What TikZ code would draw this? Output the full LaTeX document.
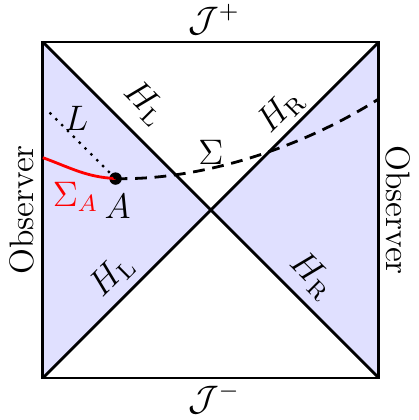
\documentclass[tikz,border=0pt]{standalone}
\usepackage{amsmath}
\usepackage{amssymb}
\usetikzlibrary{positioning, calc}
\definecolor{wedge-blue}{HTML}{E0E0FF}

\begin{document}
\begin{tikzpicture}[
  lbl/.style={font=\fontsize{11.5}{14}\selectfont, inner sep=1pt},
  edge/.style={line width=0.95pt, black},
  horizon/.style={line width=0.95pt, black},
  hlabel/.style={lbl},
  obs/.style={lbl, inner sep=0pt},
  slice/.style={line width=0.95pt, dash pattern=on 4pt off 2.6pt},
  dot/.style={circle, fill=black, inner sep=0pt, minimum size=4.2pt}
]
  \useasboundingbox (-0.51,-0.5) rectangle (4.475,4.5);

  \coordinate (bl) at (0,0);
  \coordinate (br) at (4,0);
  \coordinate (tr) at (4,4);
  \coordinate (tl) at (0,4);
  \coordinate (mid) at (2,2);

  % shaded wedges
  \fill[wedge-blue] (bl) -- (mid) -- (tl) -- cycle;
  \fill[wedge-blue] (br) -- (mid) -- (tr) -- cycle;

  \draw[edge] (bl) rectangle (tr);
  \draw[horizon] (tl) -- (br);
  \draw[horizon] (bl) -- (tr);

  % slices
  \node[dot] (A) at (0.866,2.374) {};
  \coordinate (sa) at (0,2.623);
  \coordinate (se) at (4,3.323);
  \coordinate (lend) at ($(A)+(-0.8,0.8)$);
  \draw[line width=0.95pt, red] (sa) to[out=-20, in=177] (A.center);
  \draw[slice] (A.center) .. controls (1.9,2.35) and (3.1,2.75) .. (se);
  \draw[dotted, thick] (A.center) -- (lend);

  % labels
  \node[lbl] (Lab) at (0.40,3.09) {$L$};
  \node[lbl, text=red] (SAlab) at (0.39,2.16) {$\Sigma_A$};
  \node[lbl] (Alab) at (0.89,2.04) {$A$};
  \node[lbl] (Slab) at (2.0,2.68) {$\Sigma$};

  \node[hlabel, rotate=-45] (hl1) at (1.22,3.27) {$H_{\mathrm{L}}$};
  \node[hlabel, rotate=45] (hr1) at (2.83,3.18) {$H_{\mathrm{R}}$};
  \node[hlabel, rotate=45] (hl2) at (0.82,1.22) {$H_{\mathrm{L}}$};
  \node[hlabel, rotate=-45] (hr2) at (3.21,1.22) {$H_{\mathrm{R}}$};

  \node[obs, rotate=90] (obsL) at (-0.25,2) {Observer};
  \node[obs, rotate=-90] (obsR) at (4.23,2) {Observer};

  \node[lbl] (scrip) at (2.04,4.27) {$\mathcal{J}^+$};
  \node[lbl] (scrim) at (2.04,-0.24) {$\mathcal{J}^-$};
\end{tikzpicture}
\end{document}
